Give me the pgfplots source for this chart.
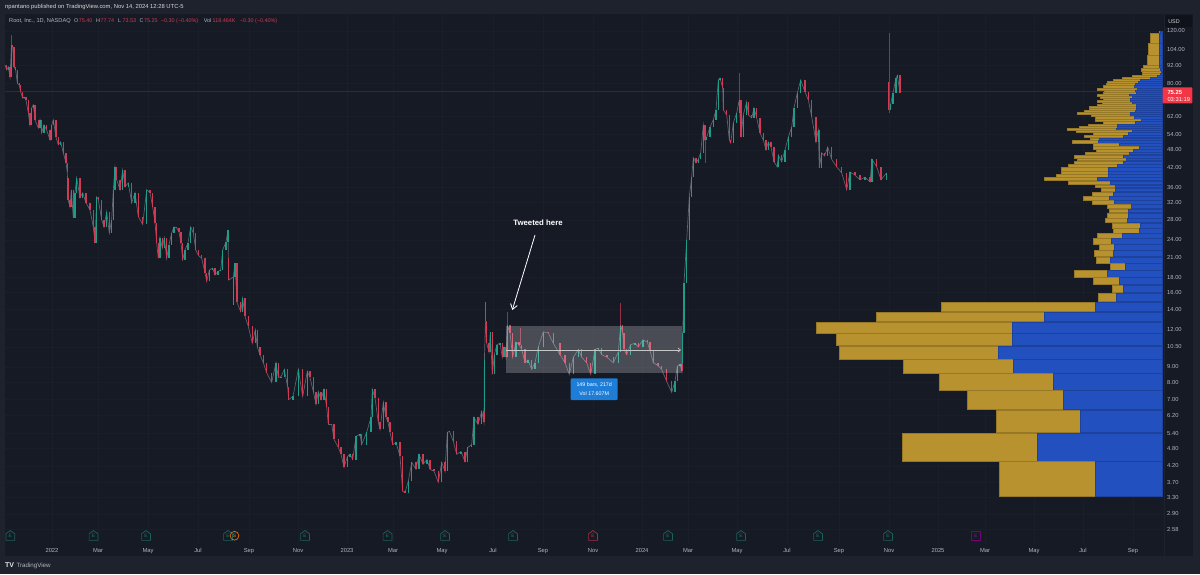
\documentclass[border=0pt]{standalone}
\usepackage{fontspec}
\setmainfont{Liberation Sans}
\usepackage{pgfplots}
\usepackage{pgfplotstable}
\pgfplotsset{compat=1.18}
\usetikzlibrary{arrows.meta}
\definecolor{panel}{HTML}{161A25}
\definecolor{outer}{HTML}{1E222D}
\definecolor{gridc}{HTML}{1A1E29}
\definecolor{txt}{HTML}{B2B5BE}
\definecolor{cup}{HTML}{1E9C87}
\definecolor{cdn}{HTML}{CF3A54}
\definecolor{cmid}{HTML}{5E616E}
\definecolor{vgold}{HTML}{B8922F}
\definecolor{vblue}{HTML}{2350BF}
\definecolor{redl}{HTML}{C8324A}
\newcommand\fs[1]{\fontsize{#1}{#1}\selectfont}
\pgfdeclareplotmark{house}{%
  \pgfpathmoveto{\pgfqpoint{-4.4pt}{-4.6pt}}%
  \pgfpathlineto{\pgfqpoint{4.4pt}{-4.6pt}}%
  \pgfpathlineto{\pgfqpoint{4.4pt}{2pt}}%
  \pgfpathlineto{\pgfqpoint{0pt}{5.2pt}}%
  \pgfpathlineto{\pgfqpoint{-4.4pt}{2pt}}%
  \pgfpathclose\pgfusepathqstroke}
\newcommand\VP[4]{%
  \addplot[fill=vgold,draw=vgold!82!black,line width=.2pt,forget plot] coordinates {(#3,#1)(#3,#2)(#4,#2)(#4,#1)} --cycle;
  \addplot[fill=vblue,draw=vblue!82!black,line width=.2pt,forget plot] coordinates {(#4,#1)(#4,#2)(1162.3,#2)(1162.3,#1)} --cycle;}
\pgfplotstableread{
x o c
5 92.3 92.3
6.7 92.3 88.9
8.3 88.9 91.0
10 91.0 84.1
11.5 84.1 107.7
12.7 107.7 106
14 106 91.0
15.7 91.0 88.9
17.3 88.9 80.3
19.3 80.3 79.1
20.7 79.1 75.0
22.7 75.0 71.5
24 71.5 72.1
26 72.1 70.5
28.3 70.5 63.8
30 63.8 58.2
31.7 58.2 66.3
33.3 66.3 67.9
35 67.9 60.5
38.3 60.5 56.8
40 56.8 60.5
41.7 60.5 54.7
44 54.7 58.2
46.7 58.2 55.9
50 55.9 51.8
51.7 51.8 58.2
53.3 58.2 60.5
56 60.5 52.9
58.3 52.9 49.9
60.7 49.9 51.0
63.3 51.0 46.9
66 46.9 43.4
67.3 43.4 40.5
68 38.7 32.7
70 32.7 30.9
71.3 30.9 35.3
73.3 35.3 28.4
75 28.4 34.5
76.7 34.5 38.7
80 38.7 33.2
82.7 33.2 34.5
86 34.5 31.9
90 31.9 30.2
93.3 30.2 26.5
95 26.5 23.4
96.7 23.4 33.4
98.3 33.4 32.7
101.7 32.7 28.0
104 28.0 26.5
106.7 26.5 29.8
109.3 29.8 25.3
111.7 25.3 28.0
113.3 28.0 35.3
115 35.3 42
116.7 42 38.1
120 38.1 35.3
122.7 35.3 41.1
125 41.1 36.1
128.3 36.1 37.2
131.7 37.2 31.9
135 31.9 34.5
138.3 34.5 28.7
142.7 28.7 27.0
146.7 27.0 35.3
150 35.3 34.5
152.7 34.5 30.9
155 30.9 27.4
156.7 27.4 23.4
158.3 23.4 20.8
160 20.8 24.4
162.3 24.4 22.5
164.3 22.5 24.4
166.7 24.4 20.8
169 20.8 23.1
171.7 23.1 25.3
174 25.3 26.5
176.7 26.5 26.3
179 26.3 25.5
181 25.5 23.4
182.7 23.4 20.6
185 20.6 22.2
188 22.2 23.4
190.7 23.4 26.5
193.3 26.5 25.3
195.7 25.3 22.2
198.3 22.2 21.3
201.7 21.3 20.8
205 20.8 18.6
206.7 18.6 17.4
209.3 17.4 19.0
212.7 19.0 19.3
215 19.3 18.3
218 18.3 18.8
220.7 18.8 19.0
222.7 19.0 22.2
226 22.2 23.6
228 23.6 25.9
228.7 20.9 17.6
233.3 14.5 18.0
235 18.0 20.0
237 20.0 14.8
240.7 14.8 13.8
242.7 13.8 15.3
245 15.3 13.3
248.3 13.3 12.3
252.3 12.3 10.8
255.3 10.8 12.0
257.3 12.0 10.5
260 10.5 9.9
263.3 9.9 9.3
266.7 9.3 8.6
271.7 8.6 7.99
276 7.99 9.3
278.3 9.3 8.3
281 8.3 8.35
284.3 8.35 8.83
287.7 8.83 7.69
288.7 7.69 7.0
293 7.0 7.17
298.3 7.17 8.83
302.7 8.83 7.17
307.3 7.17 8.7
310 8.7 8.3
313.3 8.3 7.45
316 7.45 6.74
318.3 6.74 7.45
321 7.45 7.0
324 7.0 7.57
326.7 7.57 6.6
328.3 6.6 5.78
331.7 5.78 5.78
334 5.78 5.15
338.3 5.15 4.84
341 4.84 4.6
344 4.6 4.15
347.3 4.15 4.5
350 4.5 4.6
352.7 4.6 4.41
356 4.41 5.27
360 5.27 5.36
361.7 5.36 4.95
366.7 4.95 5.44
371 5.44 6.1
372.3 6.1 7.57
375 7.57 7.1
378.3 7.1 5.87
380 5.87 5.56
383.3 5.56 6.85
386 6.85 6.1
388 6.1 5.87
390 5.87 5.44
392.7 5.44 4.95
396 4.95 5.03
400 5.03 4.52
402.7 4.52 3.45
405 3.45 3.42
408.3 3.42 3.73
411.7 3.73 4.31
416 4.31 4.09
419 4.09 4.59
423 4.59 4.25
427 4.25 4.41
430 4.41 4.09
434 4.09 4.03
438.3 4.03 3.7
441.7 3.7 4.31
445 4.31 4.03
447.3 4.03 5.44
449.5 5.44 5.48
453.3 5.48 5.07
456.7 5.07 4.59
461 4.59 4.69
465 4.69 4.34
467.7 4.34 4.84
471.7 4.84 4.95
474 4.95 6.1
478 6.1 5.78
481.7 5.78 6.39
484 6.39 5.87
484.4 5.87 9.53
485.5 14.9 12.8
486.7 12.8 10.8
489 10.8 10.1
490.3 10.1 11.8
492.3 11.8 8.5
494.3 8.5 9.9
497 9.9 10.7
500 10.7 10.8
502.3 10.8 9.7
504 9.7 10.5
506 10.5 9.7
507.3 9.7 12.4
510 12.4 11.7
512.7 11.7 9.7
516 9.7 10.9
519 10.9 10.7
521.7 10.7 10.3
525 10.3 9.3
528 9.3 9.5
531.7 9.5 8.83
535 8.83 9.3
538.3 9.3 10.5
543.3 10.5 11.8
548.3 11.8 11.7
553.3 11.7 10.8
560 10.8 9.9
565 9.9 9.3
569.3 9.3 8.5
573.3 8.5 9.7
578.3 9.7 10.3
581.7 10.3 9.7
586.7 9.7 9.3
590.7 9.3 8.5
595 8.5 10.3
598 10.3 10.4
601.7 10.4 9.9
607 9.9 9.7
613.3 9.7 9.3
618.3 9.3 10.1
620.7 10.1 12.4
622.7 12.4 11.7
624 11.7 10.3
626.7 10.3 9.9
630.7 9.9 10.7
635 10.7 10.8
638.3 10.8 10.5
643 10.5 11.1
647.3 11.1 10.9
650 10.9 10.2
653.3 10.2 9.3
658 9.3 9.1
661.7 9.1 8.83
666.7 8.83 8.05
671.7 8.05 7.4
675 7.4 8.05
677.3 8.05 9.05
680 9.05 9.2
682 9.2 8.7
682.8 8.7 11.7
684 11.7 17.2
686.7 17.2 24.0
689.3 24.0 33.4
691.7 33.4 39.0
693.3 39.0 45.2
696 45.2 43.4
698.3 43.4 44.6
700.7 44.6 46.9
703.3 46.9 58.2
705 58.2 51.8
706.7 51.8 52.9
710 52.9 57.2
713.3 57.2 60.5
716 60.5 65.3
718.3 65.3 82.2
720 82.2 83.5
722.7 83.5 77.4
723.3 77.4 65.3
726.7 65.3 62.9
729.3 62.9 51.8
730.7 51.8 50.6
733.3 50.6 59.1
736.7 59.1 63.8
739.3 63.8 70.5
741 70.5 52.9
743.3 52.9 62.9
746.7 62.9 69.5
748.3 69.5 62.9
751.7 62.9 61.4
754 61.4 66.3
756.7 66.3 61.4
760 61.4 54.7
763.3 54.7 51.8
766 51.8 48.0
768.3 48.0 51.0
771 51.0 49.0
774 49.0 43.8
777.3 43.8 42.1
778.3 42.1 46.1
781.7 46.1 43.8
785 43.8 48.0
788.3 48.0 52.9
791.7 52.9 57.2
794 57.2 66.3
797.3 66.3 74.5
800.7 74.5 82.2
805 82.2 75.0
808.3 75.0 70.5
811.7 70.5 61.9
816 61.9 51.0
818.3 51.0 55.9
819.3 55.9 41.8
821.7 41.8 46.9
824.5 46.9 45.8
827.7 45.8 49.0
831.7 49.0 44.6
836.7 44.6 42.1
841.7 42.1 40.2
846.7 40.2 35.3
850 35.3 40.5
855 40.5 39.5
860 39.5 38.1
865 38.1 38.9
870 38.9 37.5
872 37.5 44.6
876.7 44.6 42.1
881 42.1 38.1
886.7 38.1 40.2
887.5 nan nan
889 80.9 65.3
890.7 65.3 68.4
893 68.4 74.5
896 74.5 83.5
897.3 83.5 85.2
900 85.2 74.5
}\candles
\pgfplotstableread{
x lo hi
11.5 107.7 116.3
507.3 12.4 13.8
520 10.7 12.2
620.7 12.4 14.7
739.3 70.5 87
705 43.4 51.8
889 63.8 118.2
}\wicks
\begin{document}
\begin{tikzpicture}
\begin{scope}[x=1pt,y=-1pt]
\path[use as bounding box] (0,0) rectangle (1200,574);
\fill[outer] (0,0) rectangle (1200,574);
\fill[panel] (5,13.5) rectangle (1193,556);
\draw[outer,line width=.6pt] (1163.8,13.5) -- (1163.8,556);
\end{scope}
\begin{axis}[
  at={(5pt,-544pt)},anchor=south west,
  scale only axis,width=1158pt,height=530pt,
  xmin=5,xmax=1163,ymode=log,ymin=2.299,ymax=136.8,
  axis line style={draw=none},
  major tick length=0pt,minor tick length=0pt,
  tick style={draw=none},
  grid=major,grid style={gridc,line width=.5pt},
  xtick={52,98,148,198,249,298,347,393,442,493,543,593,642,688,737,787,839,889,938,985,1034,1083,1133},
  xticklabels={2022,Mar,May,Jul,Sep,Nov,2023,Mar,May,Jul,Sep,Nov,2024,Mar,May,Jul,Sep,Nov,2025,Mar,May,Jul,Sep},
  ytick={120,104,92,80,62,54,48,42,36,32,28,24,21,18,16,14,12,10.5,9,8,7,6.2,5.4,4.8,4.2,3.7,3.3,2.9,2.58},
  yticklabels={120.00,104.00,92.00,80.00,62.00,54.00,48.00,42.00,36.00,32.00,28.00,24.00,21.00,18.00,16.00,14.00,12.00,10.50,9.00,8.00,7.00,6.20,5.40,4.80,4.20,3.70,3.30,2.90,2.58},
  yticklabel pos=right,
  tick label style={font=\fs{5.8},text=txt,inner sep=0pt},
  xticklabel shift=4pt,yticklabel shift=4pt,
  yticklabel style={anchor=west},
  unbounded coords=jump,
  clip=false,
]
% last price line
\addplot[redl!28!panel,line width=.5pt,forget plot] coordinates {(5,75.25)(1163,75.25)};
% volume profile
\VP{118.2}{120}{1159.3}{1160}
\VP{109.3}{118.2}{1150}{1159}
\VP{99.7}{109.3}{1148}{1159}
\VP{92.4}{99.7}{1147.3}{1159}
\VP{90.2}{92.4}{1143}{1159.5}
\VP{88.2}{90.2}{1140.7}{1160.5}
\VP{86.5}{88.2}{1141.7}{1161.5}
\VP{85.2}{86.5}{1141.7}{1160}
\VP{83.9}{85.2}{1131.7}{1157}
\VP{82.6}{83.9}{1121.7}{1150}
\VP{81.3}{82.6}{1113}{1140}
\VP{80.2}{81.3}{1106.7}{1138}
\VP{79.0}{80.2}{1106}{1135}
\VP{77.4}{79.0}{1103}{1134}
\VP{75.9}{77.4}{1097}{1137}
\VP{74.7}{75.9}{1104}{1135}
\VP{73.6}{74.7}{1102.7}{1136}
\VP{72.4}{73.6}{1096.7}{1129}
\VP{71.3}{72.4}{1100}{1132}
\VP{70.3}{71.3}{1103}{1130}
\VP{69.2}{70.3}{1096.7}{1130}
\VP{68.2}{69.2}{1101.7}{1132}
\VP{67.2}{68.2}{1097}{1136}
\VP{66.1}{67.2}{1089}{1136}
\VP{65.1}{66.1}{1089.3}{1136}
\VP{64.0}{65.1}{1084}{1135}
\VP{63.1}{64.0}{1076.7}{1130}
\VP{62.1}{63.1}{1091}{1130}
\VP{60.9}{62.1}{1095}{1134}
\VP{59.8}{60.9}{1095}{1140.7}
\VP{58.6}{59.8}{1103}{1135}
\VP{57.7}{58.6}{1088}{1117}
\VP{56.8}{57.7}{1079}{1116.7}
\VP{56.1}{56.8}{1067}{1116}
\VP{55.1}{56.1}{1076}{1131.7}
\VP{53.9}{55.0}{1093.3}{1128.3}
\VP{52.8}{53.8}{1084.3}{1123.3}
\VP{51.7}{52.7}{1090}{1099.3}
\VP{50.6}{51.6}{1071.7}{1098.3}
\VP{49.4}{50.5}{1093.3}{1119.3}
\VP{48.3}{49.3}{1093.3}{1139}
\VP{47.2}{48.2}{1096}{1133.3}
\VP{46.3}{47.1}{1085}{1129.3}
\VP{45.2}{46.2}{1074.3}{1122.7}
\VP{44.2}{45.1}{1076.7}{1126}
\VP{43.1}{44.1}{1074.3}{1122.7}
\VP{42.0}{43.0}{1068.3}{1116.7}
\VP{40.9}{41.9}{1061.3}{1108.3}
\VP{39.9}{40.8}{1061.3}{1108.3}
\VP{38.9}{39.8}{1056}{1108.3}
\VP{37.9}{38.8}{1044}{1097.3}
\VP{36.8}{37.8}{1068}{1110.3}
\VP{35.9}{36.7}{1095}{1115}
\VP{34.8}{35.8}{1100.7}{1115}
\VP{33.7}{34.7}{1092.3}{1113}
\VP{32.7}{33.6}{1083}{1109}
\VP{31.7}{32.6}{1091.7}{1114}
\VP{30.6}{31.6}{1107}{1130.7}
\VP{29.6}{30.5}{1109.3}{1128.3}
\VP{28.4}{29.5}{1107.3}{1128.3}
\VP{27.4}{28.3}{1105}{1126.7}
\VP{26.3}{27.3}{1112.3}{1140}
\VP{25.3}{26.2}{1113.3}{1139}
\VP{24.3}{25.25}{1096.7}{1121.7}
\VP{23.2}{24.25}{1093.3}{1111.3}
\VP{22.15}{23.15}{1099.3}{1114.3}
\VP{21.1}{22.1}{1094.3}{1113.3}
\VP{20.05}{21.05}{1096}{1109.7}
\VP{19.05}{20.0}{1110.3}{1125}
\VP{18.03}{19.0}{1074.3}{1107}
\VP{17}{17.98}{1092.7}{1119}
\VP{15.97}{16.95}{1112}{1122.7}
\VP{14.92}{15.92}{1098.3}{1116}
\VP{13.83}{14.81}{941}{1095}
\VP{12.83}{13.76}{875.7}{1044}
\VP{11.72}{12.77}{816}{1011.7}
\VP{10.63}{11.65}{836}{1012.3}
\VP{9.6}{10.58}{839}{997.7}
\VP{8.61}{9.58}{903.3}{1013.3}
\VP{7.55}{8.56}{938.7}{1053}
\VP{6.49}{7.51}{966.7}{1062.7}
\VP{5.44}{6.45}{996.3}{1080}
\VP{4.37}{5.41}{902.3}{1037.3}
\VP{3.33}{4.35}{999.3}{1094.7}
% price path
\addplot[cmid,line width=.7pt,forget plot] table[x=x,y=c] {\candles};
% candle bodies
\addplot[draw=none,mark=none,forget plot,
  error bars/.cd,y dir=plus,y explicit,error mark=none,
  error bar style={line width=1.3pt,color=cup}]
  table[x=x,y expr={\thisrow{c}>=\thisrow{o} ? \thisrow{o} : nan},y error expr={\thisrow{c}-\thisrow{o}}] {\candles};
\addplot[draw=none,mark=none,forget plot,
  error bars/.cd,y dir=plus,y explicit,error mark=none,
  error bar style={line width=1.3pt,color=cdn}]
  table[x=x,y expr={\thisrow{c}<\thisrow{o} ? \thisrow{c} : nan},y error expr={\thisrow{o}-\thisrow{c}}] {\candles};
% long wicks
\addplot[draw=none,mark=none,forget plot,
  error bars/.cd,y dir=plus,y explicit,error mark=none,
  error bar style={line width=.6pt,color=cdn!70!panel}]
  table[x=x,y=lo,y error expr={\thisrow{hi}-\thisrow{lo}}] {\wicks};
% earnings markers
\addplot[only marks,mark=house,color=cup!55!panel,line width=.7pt,forget plot,
  nodes near coords={E},nodes near coords align={center},
  every node near coord/.style={font=\fs{4.8},text=cup!75!panel,inner sep=0pt,yshift=-.4pt}]
  coordinates {(10.3,2.45)(93.5,2.45)(146,2.45)(228,2.45)(305,2.45)(387.5,2.45)(445,2.45)(513,2.45)(668,2.45)(741,2.45)(818,2.45)(888,2.45)};
\addplot[only marks,mark=house,color=redl!80!panel,line width=.7pt,forget plot,
  nodes near coords={E},nodes near coords align={center},
  every node near coord/.style={font=\fs{4.8},text=redl,inner sep=0pt,yshift=-.4pt}]
  coordinates {(593,2.45)};
\addplot[only marks,mark=square,mark size=4.3pt,color=violet!85!panel,line width=.7pt,forget plot,
  nodes near coords={E},nodes near coords align={center},
  every node near coord/.style={font=\fs{4.8},text=violet!90!white,inner sep=0pt}]
  coordinates {(976,2.45)};
\addplot[only marks,mark=o,mark size=4.4pt,color=orange!85!panel,line width=.7pt,forget plot,
  nodes near coords={S},nodes near coords align={center},
  every node near coord/.style={font=\fs{4.8},text=orange,inner sep=0pt}]
  coordinates {(234.5,2.45)};
\end{axis}
\begin{scope}[x=1pt,y=-1pt]
% measure box
\fill[white,opacity=.22] (506.3,325.7) rectangle (681.7,373.3);
\draw[white!75!panel,line width=.7pt,-{Straight Barb[length=2.5pt,width=4pt]}] (506.3,350) -- (681,350);
% arrow
\draw[white,line width=.8pt,-{Straight Barb[length=5pt,width=7pt]}] (535,235) -- (512.3,310);
\node[anchor=center,text=white,font=\fs{7.8}\bfseries,inner sep=0pt] at (538,223) {Tweeted here};
% info box
\fill[fill={rgb,255:red,30;green,125;blue,215},rounded corners=1pt] (570.7,378.3) rectangle (617.7,400);
\node[text=white,font=\fs{5.3},inner sep=0pt] at (594.2,384.5) {149 bars, 217d};
\node[text=white,font=\fs{5.3},inner sep=0pt] at (594.2,394) {Vol 17.607M};
% header
\node[anchor=west,text=white!85!black,font=\fs{5.85},inner sep=0pt] at (5,7) {npantano published on TradingView.com, Nov 14, 2024 12:28 UTC-5};
\node[anchor=west,text=txt,font=\fs{5.65},inner sep=0pt] at (9,21) {Root, Inc., 1D, NASDAQ};
\node[anchor=west,text=txt,font=\fs{5.4},inner sep=0pt] at (74,21) {O};
\node[anchor=west,text=cdn,font=\fs{5.4},inner sep=0pt] at (78.7,21) {75.40};
\node[anchor=west,text=txt,font=\fs{5.4},inner sep=0pt] at (96,21) {H};
\node[anchor=west,text=cdn,font=\fs{5.4},inner sep=0pt] at (100.5,21) {77.74};
\node[anchor=west,text=txt,font=\fs{5.4},inner sep=0pt] at (118,21) {L};
\node[anchor=west,text=cdn,font=\fs{5.4},inner sep=0pt] at (122.3,21) {73.53};
\node[anchor=west,text=txt,font=\fs{5.4},inner sep=0pt] at (139.5,21) {C};
\node[anchor=west,text=cdn,font=\fs{5.4},inner sep=0pt] at (144,21) {75.25};
\node[anchor=west,text=cdn,font=\fs{5.4},inner sep=0pt] at (161,21) {–0.30 (–0.40\%)};
\node[anchor=west,text=txt,font=\fs{5.4},inner sep=0pt] at (203.7,21) {Vol};
\node[anchor=west,text=cdn,font=\fs{5.4},inner sep=0pt] at (212.5,21) {118.464K};
\node[anchor=west,text=cdn,font=\fs{5.4},inner sep=0pt] at (240,21) {–0.30 (–0.40\%)};
% right labels
\fill[fill=panel!70!black,rounded corners=.8pt] (1165,15.3) rectangle (1192.3,27);
\node[text=white!85!black,font=\fs{5.4},inner sep=0pt] at (1174,21.5) {USD};
\fill[fill={rgb,255:red,242;green,54;blue,69},rounded corners=.8pt] (1162.6,87.3) rectangle (1192.3,103.3);
\node[anchor=west,text=white,font=\fs{5.8}\bfseries,inner sep=0pt] at (1167.3,92) {75.25};
\node[anchor=west,text=white,font=\fs{5.8},inner sep=0pt] at (1167.3,99) {03:31:19};
% footer
\node[anchor=west,text=white!90!black,font=\fs{7}\bfseries,inner sep=0pt] at (5,565.5) {TV};
\node[anchor=west,text=txt,font=\fs{6.2},inner sep=0pt] at (16.3,565.5) {TradingView};
\end{scope}
\end{tikzpicture}
\end{document}
